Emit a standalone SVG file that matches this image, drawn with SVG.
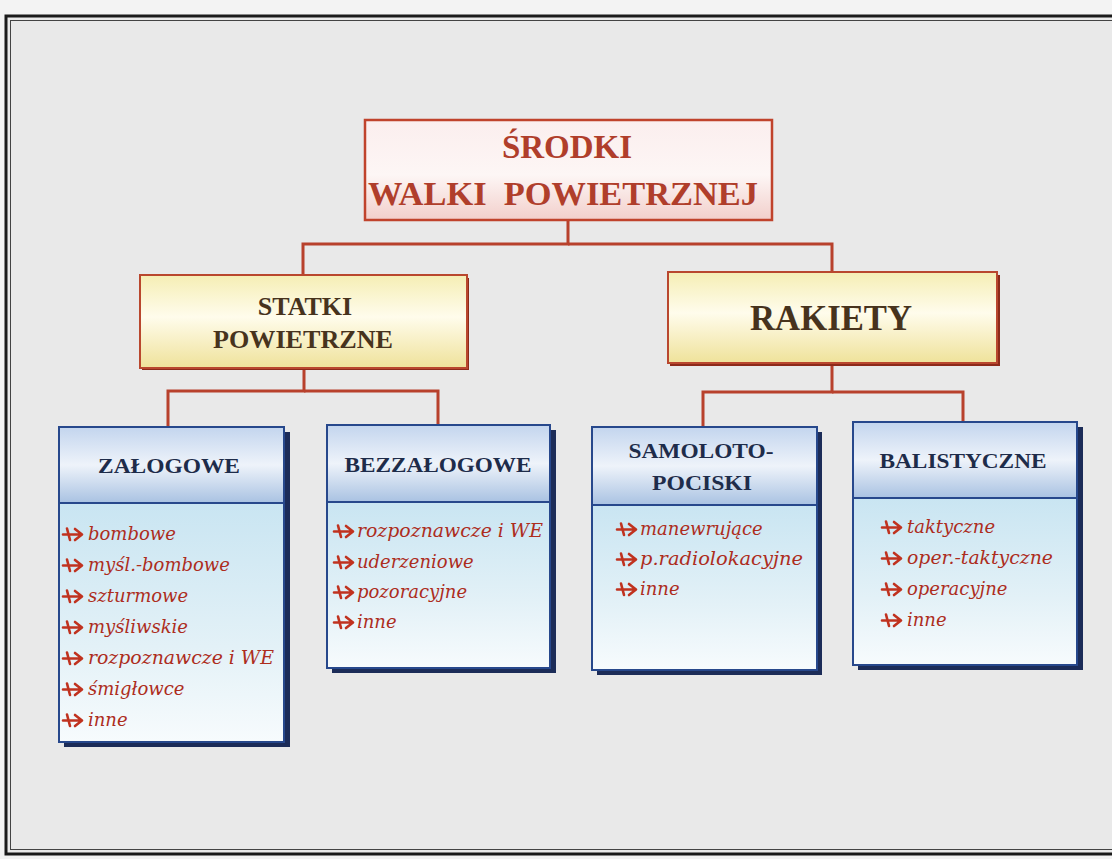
<svg xmlns="http://www.w3.org/2000/svg" width="1112" height="859" viewBox="0 0 1112 859">
  <defs>
    <style>
      .conn { fill: none; stroke: #b8412c; stroke-width: 3; stroke-linejoin: miter; }
      .root-t { font-family: "Liberation Serif", "Times New Roman", serif; font-weight: bold; font-size: 33px; fill: #b03e2b; text-anchor: middle; white-space: pre; }
      .mid-t { font-family: "Liberation Serif", "Times New Roman", serif; font-weight: bold; fill: #47331d; text-anchor: middle; }
      .hdr-t { font-family: "Liberation Serif", "Times New Roman", serif; font-weight: bold; font-size: 21px; fill: #1e2c4a; text-anchor: middle; }
      .item { font-family: "DejaVu Serif", "Liberation Serif", serif; font-style: italic; font-size: 18px; fill: #ad2d1d; }
      .box { stroke: #27488c; stroke-width: 2; }
      .shadow { fill: #1c2c58; }
    </style>
    <linearGradient id="gRoot" x1="0" y1="0" x2="0" y2="1">
      <stop offset="0" stop-color="#fbeeee"/>
      <stop offset="0.55" stop-color="#fdf6f5"/>
      <stop offset="1" stop-color="#f2cfcb"/>
    </linearGradient>
    <linearGradient id="gYel" x1="0" y1="0" x2="0" y2="1">
      <stop offset="0" stop-color="#f5eeb4"/>
      <stop offset="0.45" stop-color="#fffcec"/>
      <stop offset="1" stop-color="#efe29a"/>
    </linearGradient>
    <linearGradient id="gHdr" x1="0" y1="0" x2="0" y2="1">
      <stop offset="0" stop-color="#c3d5ee"/>
      <stop offset="0.5" stop-color="#eef3fa"/>
      <stop offset="1" stop-color="#a9c2e2"/>
    </linearGradient>
    <linearGradient id="gBody" x1="0" y1="0" x2="0" y2="1">
      <stop offset="0" stop-color="#c9e5f2"/>
      <stop offset="0.6" stop-color="#e3f1f7"/>
      <stop offset="1" stop-color="#f7fbfd"/>
    </linearGradient>
    <!-- small red arrow bullet -->
    <symbol id="arr" viewBox="0 0 22 16" overflow="visible">
      <path d="M1 8.5 H19 M13 3 L20 8.5 L13 14 M5 2.5 L8 14" fill="none" stroke="#c0321f" stroke-width="2.6" stroke-linecap="round" stroke-linejoin="round"/>
    </symbol>
  </defs>

  <!-- page -->
  <rect x="0" y="0" width="1112" height="859" fill="#f3f3f3"/>
  <rect x="7" y="17" width="1110" height="837" fill="#e9e9e9"/>
  <rect x="6" y="16" width="1112" height="838" fill="none" stroke="#1a1a1a" stroke-width="3"/>
  <rect x="10.5" y="20.5" width="1110" height="829" fill="none" stroke="#444" stroke-width="1"/>

  <!-- connectors -->
  <g id="connectors">
    <path class="conn" d="M568 220 V244 H303 V275"/>
    <path class="conn" d="M568 244 H832 V272"/>
    <path class="conn" d="M304 368 V391 H168 V427"/>
    <path class="conn" d="M304 391 H438 V425"/>
    <path class="conn" d="M832 364 V392 H703 V426"/>
    <path class="conn" d="M832 392 H963 V422"/>
  </g>

  <!-- root -->
  <g id="root">
    <rect x="365" y="120" width="407" height="100" fill="url(#gRoot)" stroke="#c0432c" stroke-width="2.5"/>
    <text class="root-t" x="567" y="158">ŚRODKI</text>
    <text class="root-t" x="563" y="205" textLength="390" lengthAdjust="spacingAndGlyphs">WALKI  POWIETRZNEJ</text>
  </g>

  <!-- statki powietrzne -->
  <g id="statki">
    <rect x="142" y="278" width="327" height="92" fill="#8c2a1a"/>
    <rect x="140" y="275" width="327" height="93" fill="url(#gYel)" stroke="#b9472e" stroke-width="2"/>
    <text class="mid-t" x="305" y="315" font-size="26">STATKI</text>
    <text class="mid-t" x="303" y="348" font-size="26" textLength="180" lengthAdjust="spacingAndGlyphs">POWIETRZNE</text>
  </g>

  <!-- rakiety -->
  <g id="rakiety">
    <rect x="670" y="275" width="330" height="91" fill="#8c2a1a"/>
    <rect x="668" y="272" width="329" height="91" fill="url(#gYel)" stroke="#b9472e" stroke-width="2"/>
    <text class="mid-t" x="831" y="330" font-size="36" fill="#3a2816" textLength="162" lengthAdjust="spacingAndGlyphs">RAKIETY</text>
  </g>

  <!-- załogowe -->
  <g id="zalogowe">
    <rect class="shadow" x="64" y="432" width="226" height="315"/>
    <rect class="box" x="59" y="427" width="225" height="76" fill="url(#gHdr)"/>
    <rect class="box" x="59" y="503" width="225" height="239" fill="url(#gBody)"/>
    <text class="hdr-t" x="169" y="473" textLength="142" lengthAdjust="spacingAndGlyphs">ZAŁOGOWE</text>
    <use href="#arr" x="62" y="526" width="22" height="16"/>
    <text class="item" x="88" y="540">bombowe</text>
    <use href="#arr" x="62" y="557" width="22" height="16"/>
    <text class="item" x="88" y="571">myśl.-bombowe</text>
    <use href="#arr" x="62" y="588" width="22" height="16"/>
    <text class="item" x="88" y="602">szturmowe</text>
    <use href="#arr" x="62" y="619" width="22" height="16"/>
    <text class="item" x="88" y="633">myśliwskie</text>
    <use href="#arr" x="62" y="650" width="22" height="16"/>
    <text class="item" x="88" y="664" textLength="186" lengthAdjust="spacingAndGlyphs">rozpoznawcze i WE</text>
    <use href="#arr" x="62" y="681" width="22" height="16"/>
    <text class="item" x="88" y="695">śmigłowce</text>
    <use href="#arr" x="62" y="712" width="22" height="16"/>
    <text class="item" x="88" y="726">inne</text>
  </g>

  <!-- bezzałogowe -->
  <g id="bezzalogowe">
    <rect class="shadow" x="332" y="430" width="224" height="243"/>
    <rect class="box" x="327" y="425" width="223" height="77" fill="url(#gHdr)"/>
    <rect class="box" x="327" y="502" width="223" height="166" fill="url(#gBody)"/>
    <text class="hdr-t" x="438" y="472" textLength="187" lengthAdjust="spacingAndGlyphs">BEZZAŁOGOWE</text>
    <use href="#arr" x="333" y="523" width="22" height="16"/>
    <text class="item" x="357" y="537" textLength="186" lengthAdjust="spacingAndGlyphs">rozpoznawcze i WE</text>
    <use href="#arr" x="333" y="554" width="22" height="16"/>
    <text class="item" x="357" y="568">uderzeniowe</text>
    <use href="#arr" x="333" y="584" width="22" height="16"/>
    <text class="item" x="357" y="598">pozoracyjne</text>
    <use href="#arr" x="333" y="614" width="22" height="16"/>
    <text class="item" x="357" y="628">inne</text>
  </g>

  <!-- samolotopociski -->
  <g id="samolotopociski">
    <rect class="shadow" x="597" y="432" width="225" height="243"/>
    <rect class="box" x="592" y="427" width="225" height="78" fill="url(#gHdr)"/>
    <rect class="box" x="592" y="505" width="225" height="165" fill="url(#gBody)"/>
    <text class="hdr-t" x="701" y="458" textLength="145" lengthAdjust="spacingAndGlyphs">SAMOLOTO-</text>
    <text class="hdr-t" x="702" y="490" textLength="100" lengthAdjust="spacingAndGlyphs">POCISKI</text>
    <use href="#arr" x="616" y="521" width="22" height="16"/>
    <text class="item" x="640" y="535">manewrujące</text>
    <use href="#arr" x="616" y="551" width="22" height="16"/>
    <text class="item" x="640" y="565" textLength="163" lengthAdjust="spacingAndGlyphs">p.radiolokacyjne</text>
    <use href="#arr" x="616" y="581" width="22" height="16"/>
    <text class="item" x="640" y="595">inne</text>
  </g>

  <!-- balistyczne -->
  <g id="balistyczne">
    <rect class="shadow" x="858" y="427" width="225" height="243"/>
    <rect class="box" x="853" y="422" width="224" height="76" fill="url(#gHdr)"/>
    <rect class="box" x="853" y="498" width="224" height="167" fill="url(#gBody)"/>
    <text class="hdr-t" x="963" y="468" textLength="167" lengthAdjust="spacingAndGlyphs">BALISTYCZNE</text>
    <use href="#arr" x="881" y="519" width="22" height="16"/>
    <text class="item" x="907" y="533">taktyczne</text>
    <use href="#arr" x="881" y="550" width="22" height="16"/>
    <text class="item" x="907" y="564" textLength="146" lengthAdjust="spacingAndGlyphs">oper.-taktyczne</text>
    <use href="#arr" x="881" y="581" width="22" height="16"/>
    <text class="item" x="907" y="595">operacyjne</text>
    <use href="#arr" x="881" y="612" width="22" height="16"/>
    <text class="item" x="907" y="626">inne</text>
  </g>
</svg>
